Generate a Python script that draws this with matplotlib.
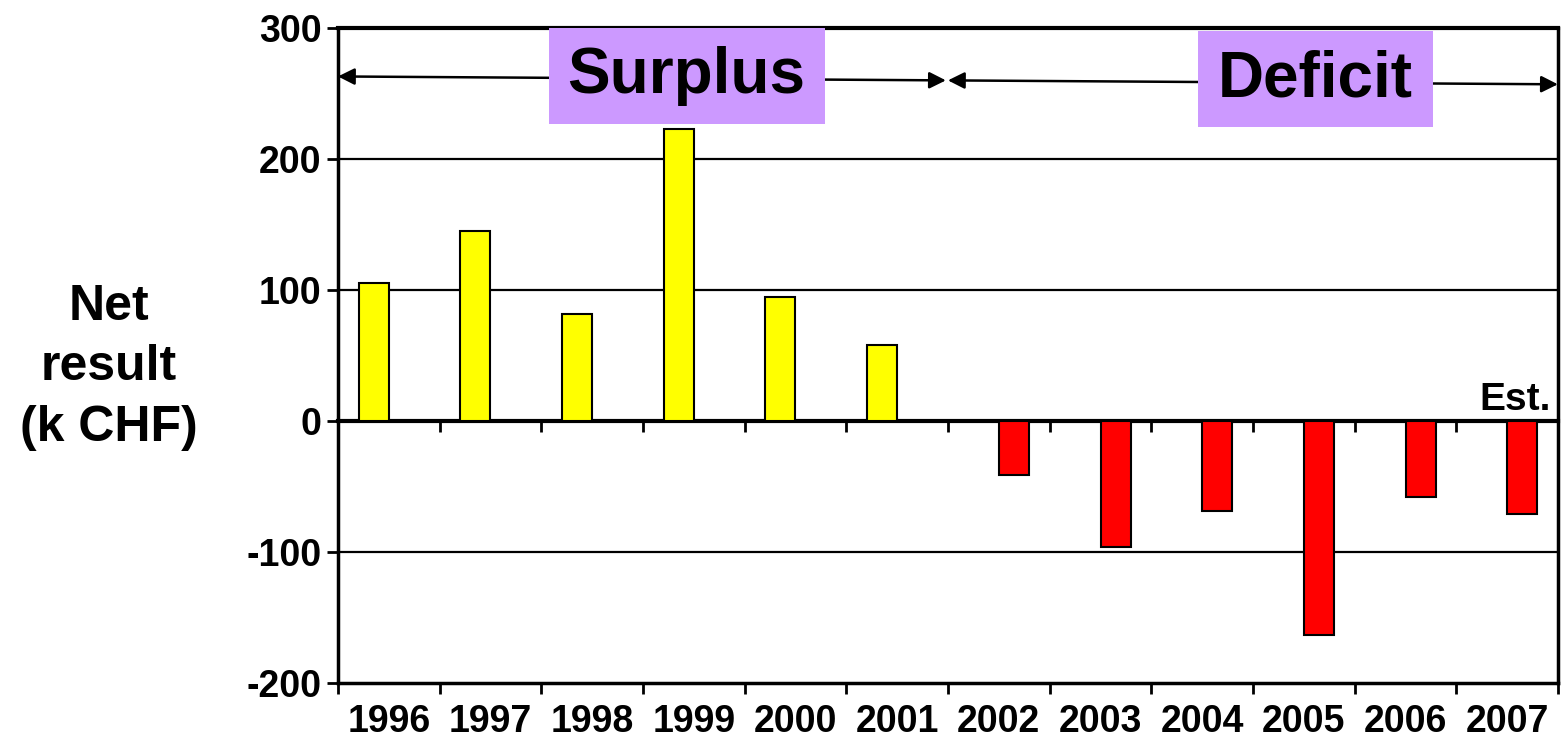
import matplotlib.pyplot as plt
import numpy as np
from matplotlib.patches import Rectangle

years = ["1996", "1997", "1998", "1999", "2000", "2001",
         "2002", "2003", "2004", "2005", "2006", "2007"]
surplus = [105, 145, 82, 223, 95, 58, 0, 0, 0, 0, 0, 0]
deficit = [0, 0, 0, 0, 0, 0, -41, -96, -69, -163, -58, -71]
y_ticks = [-200, -100, 0, 100, 200, 300]

plt.rcParams["font.family"] = ["Liberation Sans", "DejaVu Sans"]
plt.rcParams["font.weight"] = "bold"

fig = plt.figure(figsize=(15.61, 7.42), dpi=100)
ax = fig.add_axes([0.2165, 0.0795, 0.7815, 0.8828])

x = np.arange(len(years))
width = 0.295
off = 0.15
s_vals = np.array(surplus)
d_vals = np.array(deficit)
ax.bar(x[s_vals != 0] - off, s_vals[s_vals != 0], width, color="#ffff00",
       edgecolor="black", linewidth=1.5, zorder=3)
ax.bar(x[d_vals != 0] + off, d_vals[d_vals != 0], width, color="#ff0000",
       edgecolor="black", linewidth=1.5, zorder=3)

ax.set_xlim(-0.5, len(years) - 0.5)
ax.set_ylim(-200, 300)
ax.set_yticks(y_ticks)
ax.set_yticklabels([str(v) for v in y_ticks], fontsize=27, fontweight="bold")
for v in [-100, 100, 200]:
    ax.axhline(v, color="black", linewidth=1.6, zorder=1)

# category boundaries as ticks, labels in between
bounds = np.arange(len(years) + 1) - 0.5
ax.set_xticks(bounds)
ax.set_xticklabels([])
ax.set_xticks(x, minor=True)
ax.set_xticklabels(years, minor=True, fontsize=27, fontweight="bold")
ax.tick_params(axis="x", which="major", direction="out", length=8, width=2)
ax.tick_params(axis="x", which="minor", length=0, pad=15)
ax.tick_params(axis="y", direction="out", length=8, width=2, pad=4)

for sp in ax.spines.values():
    sp.set_linewidth(2.5)
ax.spines["top"].set_linewidth(3)

# zero line with its own downward ticks
zero_ax = ax.secondary_xaxis(0.4)
zero_ax.set_xticks(bounds)
zero_ax.set_xticklabels([])
zero_ax.tick_params(direction="out", length=8, width=2)
zero_ax.spines["bottom"].set_linewidth(3)

ax.set_ylabel("Net\nresult\n(k CHF)", fontsize=36, fontweight="bold",
              rotation=0, ha="center", va="center", linespacing=1.4)
ax.yaxis.set_label_coords(-0.188, 0.482)

# Surplus / Deficit annotations
arrow = dict(arrowstyle="<|-|>", color="black", lw=1.8, mutation_scale=25,
             shrinkA=0, shrinkB=0)
ax.annotate("", xy=(-0.5, 263), xytext=(5.48, 260), arrowprops=arrow,
            annotation_clip=False, zorder=4)
ax.annotate("", xy=(5.5, 260), xytext=(11.5, 257), arrowprops=arrow,
            annotation_clip=False, zorder=4)

ax.add_patch(Rectangle((1.575, 226.5), 2.715, 73.2, facecolor="#cc99ff",
                       edgecolor="none", zorder=5, clip_on=False))
ax.add_patch(Rectangle((7.96, 224.5), 2.31, 73.2, facecolor="#cc99ff",
                       edgecolor="none", zorder=5, clip_on=False))
ax.text(2.93, 263, "Surplus", fontsize=46, fontweight="bold",
        ha="center", va="center", zorder=6)
ax.text(9.115, 261, "Deficit", fontsize=46, fontweight="bold",
        ha="center", va="center", zorder=6)

ax.text(11.43, 2, "Est.", fontsize=28, fontweight="bold",
        ha="right", va="bottom", zorder=6)

fig.savefig("out.png", dpi=100)
